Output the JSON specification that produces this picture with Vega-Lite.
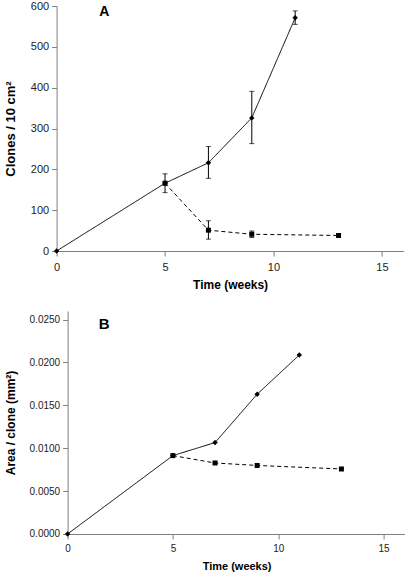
{
  "$schema": "https://vega.github.io/schema/vega-lite/v6.json",
  "padding": {"left": 3.6, "top": 0, "right": 0, "bottom": 0},
  "background": "white",
  "spacing": 20,
  "config": {
    "view": {"stroke": null},
    "font": "Liberation Sans",
    "axis": {
      "grid": false,
      "labelFlush": false,
      "labelOverlap": false,
      "domainColor": "#808080",
      "tickColor": "#808080",
      "tickSize": 5,
      "labelColor": "#222222",
      "labelFont": "Liberation Sans",
      "titleFont": "Liberation Sans",
      "titleFontWeight": "bold",
      "titleColor": "#000000"
    }
  },
  "datasets": {
    "clones": [
      {"series": "solid", "t": 0, "v": 0},
      {"series": "solid", "t": 5, "v": 166, "lo": 143, "hi": 189},
      {"series": "solid", "t": 7, "v": 216, "lo": 178, "hi": 256},
      {"series": "solid", "t": 9, "v": 326, "lo": 263, "hi": 391},
      {"series": "solid", "t": 11, "v": 571, "lo": 555, "hi": 588},
      {"series": "dashed", "t": 5, "v": 166},
      {"series": "dashed", "t": 7, "v": 51, "lo": 29, "hi": 74},
      {"series": "dashed", "t": 9, "v": 41, "lo": 33, "hi": 49},
      {"series": "dashed", "t": 13, "v": 38, "lo": 36, "hi": 40}
    ],
    "area": [
      {"series": "solid", "t": 0, "v": 0},
      {"series": "solid", "t": 5, "v": 0.00914},
      {"series": "solid", "t": 7, "v": 0.01066},
      {"series": "solid", "t": 9, "v": 0.0163},
      {"series": "solid", "t": 11, "v": 0.02086},
      {"series": "dashed", "t": 5, "v": 0.00914},
      {"series": "dashed", "t": 7, "v": 0.00828},
      {"series": "dashed", "t": 9, "v": 0.00799},
      {"series": "dashed", "t": 13, "v": 0.00758}
    ],
    "labelA": [{"t": 2.2, "v": 586, "text": "A"}],
    "labelB": [{"t": 1.74, "v": 0.02453, "text": "B"}]
  },
  "vconcat": [
    {
      "width": 347,
      "height": 245,
      "layer": [
        {
          "data": {"name": "clones"},
          "mark": {"type": "line", "color": "black", "strokeWidth": 1},
          "encoding": {
            "x": {"field": "t", "type": "quantitative", "scale": {"domain": [0, 15]},
                  "axis": {"values": [0, 5, 10, 15], "title": "Time (weeks)", "labelFontSize": 11, "titleFontSize": 12, "labelPadding": 5, "titlePadding": 8}},
            "y": {"field": "v", "type": "quantitative", "scale": {"domain": [0, 600]},
                  "axis": {"values": [0, 100, 200, 300, 400, 500, 600], "title": "Clones / 10 cm²", "labelFontSize": 11, "titleFontSize": 13, "labelPadding": 3, "titlePadding": 13}},
            "strokeDash": {"field": "series", "type": "nominal", "scale": {"domain": ["solid", "dashed"], "range": [[1, 0], [4, 3]]}, "legend": null}
          }
        },
        {
          "data": {"name": "clones"},
          "transform": [{"filter": "isValid(datum.lo)"}],
          "mark": {"type": "rule", "color": "black", "strokeWidth": 1},
          "encoding": {
            "x": {"field": "t", "type": "quantitative"},
            "y": {"field": "lo", "type": "quantitative"},
            "y2": {"field": "hi"}
          }
        },
        {
          "data": {"name": "clones"},
          "transform": [{"filter": "isValid(datum.lo)"}, {"fold": ["lo", "hi"], "as": ["end", "ev"]}],
          "mark": {"type": "tick", "color": "black", "orient": "horizontal", "size": 5, "thickness": 1},
          "encoding": {
            "x": {"field": "t", "type": "quantitative"},
            "y": {"field": "ev", "type": "quantitative"}
          }
        },
        {
          "data": {"name": "clones"},
          "mark": {"type": "point", "filled": true, "color": "black", "opacity": 1},
          "encoding": {
            "x": {"field": "t", "type": "quantitative"},
            "y": {"field": "v", "type": "quantitative"},
            "shape": {"field": "series", "type": "nominal", "scale": {"domain": ["solid", "dashed"], "range": ["diamond", "square"]}, "legend": null},
            "size": {"field": "series", "type": "nominal", "scale": {"domain": ["solid", "dashed"], "range": [30, 25]}, "legend": null}
          }
        },
        {
          "data": {"name": "labelA"},
          "mark": {"type": "text", "fontSize": 14, "fontWeight": "bold", "color": "black", "baseline": "middle", "align": "center"},
          "encoding": {
            "x": {"field": "t", "type": "quantitative"},
            "y": {"field": "v", "type": "quantitative"},
            "text": {"field": "text"}
          }
        }
      ]
    },
    {
      "width": 348,
      "height": 223,
      "layer": [
        {
          "data": {"name": "area"},
          "mark": {"type": "line", "color": "black", "strokeWidth": 1},
          "encoding": {
            "x": {"field": "t", "type": "quantitative", "scale": {"domain": [0, 15], "range": [11, 348]},
                  "axis": {"values": [0, 5, 10, 15], "title": "Time (weeks)", "titleX": 180, "labelFontSize": 10, "titleFontSize": 11, "labelPadding": 5, "titlePadding": 6.5}},
            "y": {"field": "v", "type": "quantitative", "scale": {"domain": [0, 0.025]},
                  "axis": {"values": [0, 0.005, 0.01, 0.015, 0.02, 0.025], "format": ".4f", "offset": -11, "title": "Area / clone  (mm²)", "labelFontSize": 10, "titleFontSize": 12, "labelPadding": 3, "titlePadding": 11.4}},
            "strokeDash": {"field": "series", "type": "nominal", "scale": {"domain": ["solid", "dashed"], "range": [[1, 0], [4, 3]]}, "legend": null}
          }
        },
        {
          "data": {"name": "area"},
          "mark": {"type": "point", "filled": true, "color": "black", "opacity": 1},
          "encoding": {
            "x": {"field": "t", "type": "quantitative"},
            "y": {"field": "v", "type": "quantitative"},
            "shape": {"field": "series", "type": "nominal", "scale": {"domain": ["solid", "dashed"], "range": ["circle", "square"]}, "legend": null},
            "size": {"field": "series", "type": "nominal", "scale": {"domain": ["solid", "dashed"], "range": [12, 22]}, "legend": null}
          }
        },
        {
          "data": {"name": "labelB"},
          "mark": {"type": "text", "fontSize": 15, "fontWeight": "bold", "color": "black", "baseline": "middle", "align": "center"},
          "encoding": {
            "x": {"field": "t", "type": "quantitative"},
            "y": {"field": "v", "type": "quantitative"},
            "text": {"field": "text"}
          }
        }
      ]
    }
  ]
}
